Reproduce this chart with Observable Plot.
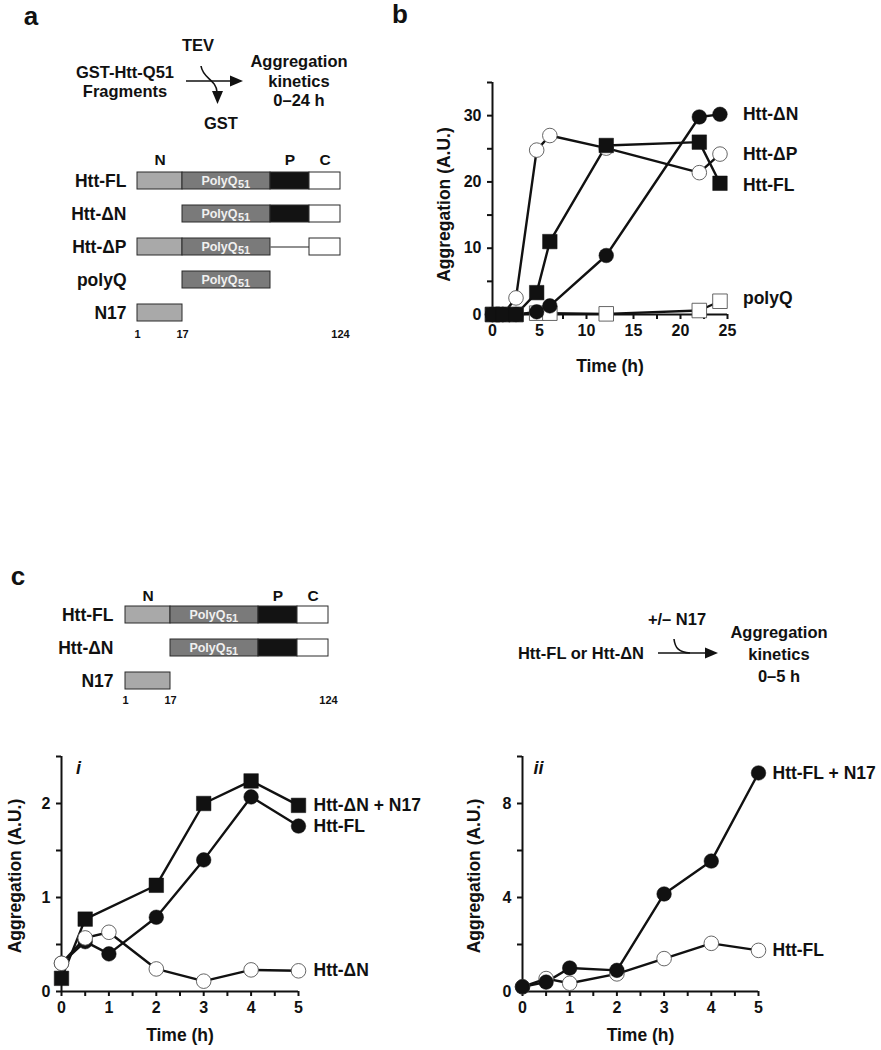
<!DOCTYPE html>
<html>
<head>
<meta charset="utf-8">
<script src="https://cdn.jsdelivr.net/npm/d3@7"></script>
<script src="https://cdn.jsdelivr.net/npm/@observablehq/plot@0.6"></script>
<style>
  body { margin: 0; background: #fff; }
  #fig { position: relative; width: 881px; height: 1050px; overflow: hidden; background: #fff; }
</style>
</head>
<body>
<div id="fig"></div>
<script>
// ===================== DATA =====================
// Domain schematic: regions and their (schematic) drawing lengths
const regionNames = ["N", "PolyQ", "P", "C"];
const regionSpan = [45, 88, 39, 31];
const residueTickLabels = ["1", "17", "124"];
const residueTickEdge = [0, 1, 4];            // boundary index of each residue label

const aConstructs = ["Htt-FL", "Htt-ΔN", "Htt-ΔP", "polyQ", "N17"];
const aConstructRegions = [["N", "PolyQ", "P", "C"], ["PolyQ", "P", "C"], ["N", "PolyQ", "C"], ["PolyQ"], ["N"]];
const aConstructLinkers = [[], [], ["P"], [], []];

const cConstructs = ["Htt-FL", "Htt-ΔN", "N17"];
const cConstructRegions = [["N", "PolyQ", "P", "C"], ["PolyQ", "P", "C"], ["N"]];
const cConstructLinkers = [[], [], []];

// Panel b: aggregation kinetics 0–24 h
const bTime = [0, 1.1, 2.5, 4.7, 6.1, 12.1, 22, 24.2];
const bPolyQ = [0, 0, 0, 0.2, 0.2, 0.1, 0.6, 2.0];
const bHttDP = [0, 0, 2.5, 24.8, 27.0, 25.1, 21.4, 24.2];
const bHttDN = [0, 0, 0, 0.4, 1.3, 8.9, 29.8, 30.2];
const bHttFL = [0, 0, 0, 3.3, 11.0, 25.5, 26.0, 19.8];
const bYTicks = [0, 10, 20, 30];
const bYMinor = [5, 15, 25, 35];
const bXTicks = [0, 5, 10, 15, 20, 25];
const bXMinor = [2.5, 7.5, 12.5, 17.5, 22.5];

// Panel c(i) and c(ii): aggregation kinetics 0–5 h
const cTime = [0, 0.5, 1, 2, 3, 4, 5];
const ciTimeDNplusN17 = [0, 0.5, 2, 3, 4, 5];
const ciHttDNplusN17 = [0.14, 0.77, 1.13, 2.0, 2.24, 1.98];
const ciHttFL = [0.30, 0.53, 0.40, 0.79, 1.40, 2.07, 1.76];
const ciHttDN = [0.30, 0.57, 0.63, 0.24, 0.11, 0.23, 0.22];
const ciYTicks = [0, 1, 2];
const ciYMinor = [0.5, 1.5, 2.5];
const ciiHttFLplusN17 = [0.2, 0.4, 1.0, 0.9, 4.15, 5.55, 9.3];
const ciiHttFL = [0.2, 0.55, 0.35, 0.75, 1.4, 2.05, 1.75];
const ciiYTicks = [0, 4, 8];
const ciiYMinor = [2, 6, 10];
const cXTicks = [0, 1, 2, 3, 4, 5];
const cXMinor = [0.5, 1.5, 2.5, 3.5, 4.5];

// ===================== DRAWING =====================
const FONT = '"Liberation Sans", Arial, Helvetica, sans-serif';
const INK = "#111";
const fig = document.getElementById("fig");
const baseStyle = {fontFamily: FONT, fontWeight: "bold", fontSize: "16px", color: INK, background: "transparent", overflow: "visible"};

function place(node, left, top) {
  node.style.position = "absolute";
  node.style.left = left + "px";
  node.style.top = top + "px";
  node.style.maxWidth = "none";
  fig.appendChild(node);
}

const regionEnd = d3.cumsum(regionSpan);
const regionStart = Array.from(regionEnd, (e, i) => e - regionSpan[i]);
const edges = [0, ...regionEnd];
const totalSpan = edges[edges.length - 1];
const rIdx = (r) => regionNames.indexOf(r);
const regionFill = {N: "#a9a9a9", PolyQ: "#7a7a7a", P: "#131313", C: "#ffffff"};

function diagram(constructs, regionsPer, linkersPer, o) {
  const segs = constructs.flatMap((c, i) => regionsPer[i].map(r => ({construct: c, region: r, x1: regionStart[rIdx(r)], x2: regionEnd[rIdx(r)]})));
  const links = constructs.flatMap((c, i) => linkersPer[i].map(r => ({construct: c, x1: regionStart[rIdx(r)], x2: regionEnd[rIdx(r)]})));
  const header = ["N", "P", "C"].map(r => ({r, x: (regionStart[rIdx(r)] + regionEnd[rIdx(r)]) / 2}));
  const pq = segs.filter(s => s.region === "PolyQ").map(s => ({construct: s.construct, x: (s.x1 + s.x2) / 2}));
  const res = residueTickLabels.map((t, i) => ({t, x: edges[residueTickEdge[i]]}));
  const first = constructs[0], last = constructs[constructs.length - 1];
  return Plot.plot({
    width: o.width, height: o.height,
    marginLeft: o.ml, marginRight: o.mr, marginTop: o.mt, marginBottom: o.mb,
    x: {domain: [0, totalSpan], axis: null},
    y: {domain: constructs, padding: 0.5, axis: null},
    color: {type: "identity"},
    style: baseStyle,
    marks: [
      Plot.link(links, {x1: "x1", x2: "x2", y1: "construct", y2: "construct", stroke: "#222", strokeWidth: 1.2}),
      Plot.barX(segs, {x1: "x1", x2: "x2", y: "construct", fill: d => regionFill[d.region], stroke: "#2a2a2a", strokeWidth: 1}),
      Plot.text(constructs, {x: 0, y: d => d, dx: -o.labelGap, textAnchor: "end", fontSize: 17.5}),
      Plot.text(header, {x: "x", y: () => first, dy: -o.headerGap, text: "r", fontSize: 15.5}),
      Plot.text(pq, {x: "x", y: "construct", dx: 11, textAnchor: "end", text: () => "PolyQ", fill: "#f0f0f0", fontSize: 12.5}),
      Plot.text(pq, {x: "x", y: "construct", dx: 11.5, dy: 3, textAnchor: "start", text: () => "51", fill: "#f0f0f0", fontSize: 11}),
      Plot.text(res, {x: "x", y: () => last, dy: o.footGap, text: "t", fontSize: 11})
    ]
  });
}

function toRows(times, values) { return times.map((t, i) => ({t, v: values[i]})); }

function kinetics(o) {
  const lines = o.series.map(s => Plot.line(s.data, {x: "t", y: "v", stroke: INK, strokeWidth: 2.4}));
  const dots = o.series.map(s => Plot.dot(s.data, {
    x: "t", y: "v", symbol: s.symbol, r: s.symbol === "square" ? 8.2 : 7.3,
    fill: s.filled ? INK : "#fff", stroke: s.filled ? INK : "#555", strokeWidth: s.filled ? 0.5 : 0.9
  }));
  const labels = o.series.filter(s => s.label).map(s => Plot.text([s.data[s.data.length - 1]], {
    x: "t", y: "v", text: () => s.label, dx: o.labelDx, dy: s.labelDy || 0, textAnchor: "start", fontSize: 17.5
  }));
  const extra = [];
  if (o.tag) extra.push(Plot.text([o.tag], {frameAnchor: "top-left", dx: o.tagDx, dy: 12, textAnchor: "middle", lineAnchor: "middle", fontStyle: "italic", fontSize: 18}));
  const fmt = d => String(d);
  return Plot.plot({
    width: o.width, height: o.height,
    marginLeft: o.ml, marginRight: o.mr, marginTop: o.mt, marginBottom: o.mb,
    x: {domain: o.xDomain}, y: {domain: o.yDomain},
    style: baseStyle,
    marks: [
      Plot.ruleX([o.xDomain[0]], {y1: o.yDomain[0], y2: o.yDomain[1], stroke: INK, strokeWidth: 2}),
      Plot.ruleY([o.yDomain[0]], {x1: o.xDomain[0], x2: o.xDomain[1], stroke: INK, strokeWidth: 2}),
      Plot.axisY(o.yTicks, {anchor: "left", tickSize: 5, tickPadding: 6, strokeWidth: 2, stroke: INK, label: null, tickFormat: fmt}),
      Plot.axisY(o.yMinor, {anchor: "left", tickSize: 5, strokeWidth: 2, stroke: INK, label: null, tickFormat: () => ""}),
      Plot.axisX(o.xTicks, {anchor: "bottom", tickSize: 5, tickPadding: 5, strokeWidth: 2, stroke: INK, label: null, tickFormat: fmt}),
      Plot.axisX(o.xMinor, {anchor: "bottom", tickSize: 5, strokeWidth: 2, stroke: INK, label: null, tickFormat: () => ""}),
      Plot.text(["Aggregation (A.U.)"], {frameAnchor: "left", dx: o.yTitleDx, dy: o.yTitleDy, rotate: -90, textAnchor: "middle", lineAnchor: "middle", fontSize: 17.5}),
      Plot.text(["Time (h)"], {frameAnchor: "bottom", dy: o.xTitleDy, textAnchor: "middle", lineAnchor: "middle", fontSize: 17.5}),
      ...lines, ...dots, ...labels, ...extra
    ]
  });
}

// ---- Panel a: construct diagram
place(diagram(aConstructs, aConstructRegions, aConstructLinkers,
  {width: 360, height: 210, ml: 137, mr: 20, mt: 15.25, mb: 13.25, labelGap: 11, headerGap: 21, footGap: 21}), 0, 140);

// ---- Panel c: construct diagram
place(diagram(cConstructs, cConstructRegions, cConstructLinkers,
  {width: 360, height: 150, ml: 125, mr: 32, mt: 19.25, mb: 15.25, labelGap: 12, headerGap: 19, footGap: 19}), 0, 570);

// ---- Panel b: kinetics
place(kinetics({
  width: 460, height: 330, ml: 112, mr: 113, mt: 22, mb: 76,
  xDomain: [0, 25], yDomain: [0, 35],
  xTicks: bXTicks, xMinor: bXMinor, yTicks: bYTicks, yMinor: bYMinor,
  yTitleDx: -48, yTitleDy: 6, xTitleDy: 52, labelDx: 23,
  series: [
    {data: toRows(bTime, bPolyQ), symbol: "square", filled: false, label: "polyQ", labelDy: -3},
    {data: toRows(bTime, bHttDP), symbol: "circle", filled: false, label: "Htt-ΔP"},
    {data: toRows(bTime, bHttDN), symbol: "circle", filled: true, label: "Htt-ΔN"},
    {data: toRows(bTime, bHttFL), symbol: "square", filled: true, label: "Htt-FL", labelDy: 2}
  ]
}), 380, 60);

// ---- Panel c(i)
place(kinetics({
  width: 440, height: 310, ml: 61, mr: 142, mt: 16, mb: 59,
  xDomain: [0, 5], yDomain: [0, 2.5],
  xTicks: cXTicks, xMinor: cXMinor, yTicks: ciYTicks, yMinor: ciYMinor,
  yTitleDx: -46, yTitleDy: 2, xTitleDy: 44, labelDx: 15, tag: "i", tagDx: 17,
  series: [
    {data: toRows(ciTimeDNplusN17, ciHttDNplusN17), symbol: "square", filled: true, label: "Htt-ΔN + N17"},
    {data: toRows(cTime, ciHttFL), symbol: "circle", filled: true, label: "Htt-FL"},
    {data: toRows(cTime, ciHttDN), symbol: "circle", filled: false, label: "Htt-ΔN"}
  ]
}), 0, 740);

// ---- Panel c(ii)
place(kinetics({
  width: 440, height: 310, ml: 82, mr: 122, mt: 16, mb: 59,
  xDomain: [0, 5], yDomain: [0, 10],
  xTicks: cXTicks, xMinor: cXMinor, yTicks: ciiYTicks, yMinor: ciiYMinor,
  yTitleDx: -48, yTitleDy: 2, xTitleDy: 44, labelDx: 14, tag: "ii", tagDx: 16,
  series: [
    {data: toRows(cTime, ciiHttFL), symbol: "circle", filled: false, label: "Htt-FL"},
    {data: toRows(cTime, ciiHttFLplusN17), symbol: "circle", filled: true, label: "Htt-FL + N17"}
  ]
}), 440, 740);

// ---- Overlay: panel letters and reaction schemes
const ov = d3.create("svg").attr("width", 881).attr("height", 1050)
  .style("position", "absolute").style("left", "0px").style("top", "0px")
  .attr("font-family", FONT).attr("font-weight", "bold").attr("fill", INK);
function txt(s, x, y, size) {
  ov.append("text").attr("x", x).attr("y", y).attr("font-size", size)
    .attr("text-anchor", "middle").attr("dominant-baseline", "central").text(s);
}
txt("a", 31, 16, 26);
txt("b", 400, 14, 26);
txt("c", 18, 576, 26);
// panel a scheme
txt("TEV", 198, 45, 16.5);
txt("GST-Htt-Q51", 125, 72, 16.5);
txt("Fragments", 125, 91, 16.5);
txt("GST", 221, 123, 16.5);
txt("Aggregation", 299, 61, 16.5);
txt("kinetics", 299, 81, 16.5);
txt("0–24 h", 299, 100, 16.5);
ov.append("line").attr("x1", 186).attr("y1", 81).attr("x2", 232).attr("y2", 81).attr("stroke", INK).attr("stroke-width", 1.6);
ov.append("polygon").attr("points", "243,81 230,75.5 230,86.5");
ov.append("path").attr("d", "M201,66 C203,79 216,79 217,92").attr("fill", "none").attr("stroke", INK).attr("stroke-width", 1.6);
ov.append("polygon").attr("points", "217.5,104 212,91 223,91");
// panel c scheme
txt("+/– N17", 677, 619, 16.5);
txt("Htt-FL or Htt-ΔN", 581, 653, 16.5);
txt("Aggregation", 779, 632, 16.5);
txt("kinetics", 779, 654, 16.5);
txt("0–5 h", 779, 676, 16.5);
ov.append("line").attr("x1", 658).attr("y1", 653).attr("x2", 707).attr("y2", 653).attr("stroke", INK).attr("stroke-width", 1.6);
ov.append("polygon").attr("points", "718,653 705,647.5 705,658.5");
ov.append("path").attr("d", "M674,639 C675,648 679,652.5 690,653").attr("fill", "none").attr("stroke", INK).attr("stroke-width", 1.6);
fig.appendChild(ov.node());
</script>
</body>
</html>
